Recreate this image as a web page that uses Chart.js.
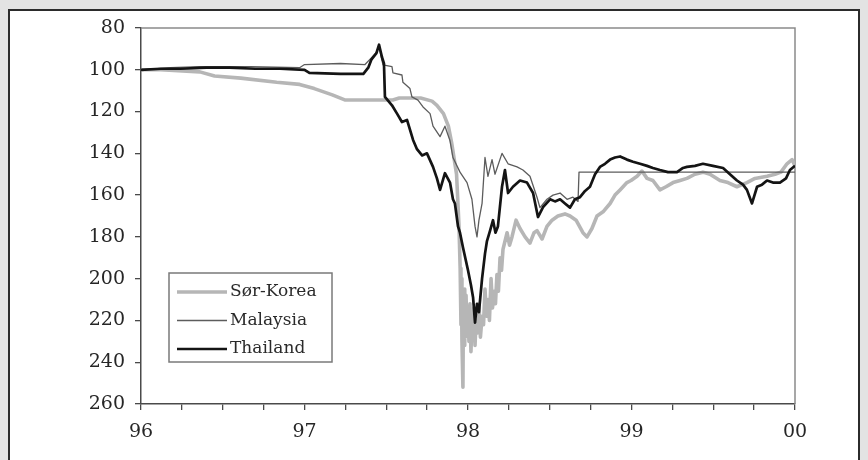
<!DOCTYPE html>
<html>
<head>
<meta charset="utf-8">
<script src="https://cdn.jsdelivr.net/npm/chart.js@4.4.1/dist/chart.umd.min.js"></script>
<style>
  html, body { margin: 0; padding: 0; background: #e3e3e3; }
  #panel { position: absolute; left: 8px; top: 9px; width: 852px; height: 460px;
           background: #ffffff; border: 2px solid #2b2b2b; box-sizing: border-box; }
  #wrap { position: absolute; left: 0; top: 0; width: 868px; height: 460px; }
</style>
</head>
<body>
<div id="panel"></div>
<div id="wrap"><canvas id="c" width="868" height="460"></canvas></div>
<script>
// ---- data (x in years, e.g. 97.5 = mid-1997; 100 = year 2000) ----
const seriesNames = ['Sør-Korea', 'Malaysia', 'Thailand'];
const xTickLabels = ['96', '97', '98', '99', '00'];

const koreaX = [96.00,96.12,96.36,96.45,96.61,96.83,96.97,97.06,97.17,97.25,97.54,97.58,97.71,97.78,97.81,97.85,97.88,97.90,97.93,97.945,97.952,97.957,97.960,97.963,97.969,97.972,97.976,97.980,97.984,97.988,97.994,98.00,98.006,98.012,98.018,98.024,98.030,98.037,98.043,98.049,98.058,98.067,98.076,98.086,98.095,98.104,98.113,98.122,98.131,98.141,98.150,98.159,98.168,98.177,98.186,98.196,98.205,98.214,98.239,98.254,98.269,98.294,98.318,98.349,98.379,98.404,98.422,98.453,98.483,98.514,98.55,98.593,98.624,98.661,98.703,98.728,98.758,98.789,98.826,98.869,98.899,98.93,98.972,98.997,99.034,99.064,99.095,99.131,99.174,99.211,99.254,99.297,99.339,99.388,99.437,99.48,99.541,99.59,99.645,99.706,99.755,99.829,99.878,99.914,99.951,99.982,100.00];
const koreaY = [100,100,101,103,104,106,107,109,112,114.5,114.5,113.5,113.5,115,117,121,127,135,150,175,195,222,200,230,252,212,232,205,228,208,226,218,230,212,235,222,228,214,232,220,226,212,228,218,222,205,218,210,220,200,214,206,212,198,206,190,196,186,178,184,180,172,176,180,183,178,177,181,175,172,170,169,170,172,178,180,176,170,168,164,160,157.5,154,153,151,148.5,152,153,157.5,156,154,153,152,150,149,150,153,154,156,154,152,151,150,149,145,143,146];

const malaysiaX = [96.00,96.18,96.36,96.67,96.97,97.00,97.22,97.37,97.40,97.437,97.456,97.48,97.535,97.541,97.596,97.602,97.645,97.657,97.694,97.725,97.768,97.786,97.829,97.859,97.89,97.908,97.951,97.994,98.024,98.043,98.055,98.067,98.086,98.104,98.122,98.147,98.165,98.208,98.245,98.30,98.336,98.379,98.422,98.44,98.483,98.52,98.563,98.606,98.642,98.673,98.679,100.00];
const malaysiaY = [100,99,98.5,98.5,99,97.5,97,97.5,95,92,89,97.7,98.5,101.5,102.5,106,109,113,114.5,117.8,121,127,132,127,134,142,149,154,162,175,180,172,164,142,151,143,150,140,145,146.5,148,151,161,166,162,160,159,162,161,163,149,149];

const thailandX = [96.00,96.12,96.24,96.40,96.54,96.70,96.85,97.00,97.03,97.22,97.36,97.39,97.41,97.44,97.456,97.474,97.486,97.492,97.535,97.566,97.596,97.627,97.664,97.688,97.719,97.749,97.786,97.81,97.829,97.859,97.89,97.908,97.92,97.939,97.951,97.969,98.00,98.018,98.031,98.043,98.055,98.067,98.086,98.104,98.116,98.135,98.153,98.168,98.183,98.208,98.226,98.245,98.275,98.318,98.361,98.398,98.428,98.459,98.502,98.532,98.563,98.593,98.624,98.654,98.685,98.716,98.746,98.777,98.807,98.838,98.869,98.899,98.93,98.972,99.009,99.052,99.095,99.131,99.174,99.223,99.278,99.315,99.339,99.388,99.437,99.498,99.56,99.602,99.645,99.682,99.706,99.737,99.768,99.798,99.829,99.865,99.908,99.945,99.969,100.00];
const thailandY = [100,99.5,99.5,99,99,99.5,99.5,100,101.5,102,102,99,95,92,88,94,97,113,117,121,125,124,133.6,138,141,140,146.5,152,157.5,149.5,154,162,164,175,178,185,196,203,209,221,212,216,200,188,182,177,172,178,175,156,148,159,156,153,154,159,170.5,165.7,162,163,162,164,166,162,161,158,156,150,146.5,145,143,142,141.5,143,144,145,146,147,148,149,149,147,146.5,146,145,146,147,150,153,155,157.5,164,156,155,153,154,154,152,148,146];

const colors = ['#b6b6b6', '#5c5c5c', '#141414'];
const widths = [3.6, 1.3, 2.7];

function pts(xs, ys) { return xs.map((x, i) => ({ x: x, y: ys[i] })); }

const FONT = '"DejaVu Serif", "Liberation Serif", serif';

const frame = {
  id: 'frame',
  beforeDatasetsDraw(chart) {
    const a = chart.chartArea, ctx = chart.ctx;
    ctx.save();
    ctx.strokeStyle = '#8a8a8a';
    ctx.lineWidth = 1.5;
    ctx.beginPath();
    ctx.moveTo(a.left, a.top);
    ctx.lineTo(a.right, a.top);
    ctx.lineTo(a.right, a.bottom);
    ctx.stroke();
    ctx.restore();
  }
};

const legendBox = {
  id: 'legendBox',
  afterDatasetsDraw(chart) {
    const ctx = chart.ctx;
    const x0 = 169, y0 = 273, w = 163, h = 89;
    ctx.save();
    ctx.fillStyle = '#ffffff';
    ctx.fillRect(x0, y0, w, h);
    ctx.strokeStyle = '#7a7a7a';
    ctx.lineWidth = 1.5;
    ctx.strokeRect(x0, y0, w, h);
    ctx.font = '17px ' + FONT;
    ctx.textBaseline = 'middle';
    ctx.fillStyle = '#2a2a2a';
    chart.data.datasets.forEach((ds, i) => {
      const yy = y0 + 19 + i * 28.5;
      ctx.strokeStyle = ds.borderColor;
      ctx.lineWidth = ds.borderWidth;
      ctx.beginPath();
      ctx.moveTo(x0 + 8, yy);
      ctx.lineTo(x0 + 58, yy);
      ctx.stroke();
      ctx.fillText(ds.label, x0 + 61, yy);
    });
    ctx.restore();
  }
};

new Chart(document.getElementById('c'), {
  type: 'line',
  data: {
    datasets: [
      { label: seriesNames[0], data: pts(koreaX, koreaY), borderColor: colors[0], borderWidth: widths[0], order: 2 },
      { label: seriesNames[1], data: pts(malaysiaX, malaysiaY), borderColor: colors[1], borderWidth: widths[1], order: 1 },
      { label: seriesNames[2], data: pts(thailandX, thailandY), borderColor: colors[2], borderWidth: widths[2], order: 0 }
    ]
  },
  options: {
    responsive: false,
    animation: false,
    devicePixelRatio: 1,
    elements: { point: { radius: 0 }, line: { tension: 0, borderJoinStyle: 'round' } },
    layout: { padding: { left: 0, right: 73, top: 28, bottom: 0 } },
    plugins: { legend: { display: false }, tooltip: { enabled: false } },
    scales: {
      x: {
        type: 'linear', min: 96, max: 100,
        afterFit(s) { s.height = 56; },
        afterBuildTicks(s) {
          const t = [];
          for (let i = 0; i <= 16; i++) t.push({ value: 96 + i * 0.25 });
          s.ticks = t;
        },
        ticks: {
          autoSkip: false, maxRotation: 0, padding: 11, color: '#262626',
          font: { family: FONT, size: 19 },
          callback(v) {
            const k = Math.round((v - 96) * 4);
            return k % 4 === 0 ? xTickLabels[k / 4] : '';
          }
        },
        grid: { drawOnChartArea: false, drawTicks: true, tickLength: 6, color: '#4a4a4a', lineWidth: 1.3 },
        border: { display: true, color: '#4a4a4a', width: 1.5 }
      },
      y: {
        reverse: true, min: 80, max: 260,
        afterFit(s) { s.width = 141; },
        ticks: { stepSize: 20, padding: 10, color: '#262626', font: { family: FONT, size: 19 } },
        grid: { drawOnChartArea: false, drawTicks: true, tickLength: 6, color: '#4a4a4a', lineWidth: 1.3 },
        border: { display: true, color: '#4a4a4a', width: 1.5 }
      }
    }
  },
  plugins: [frame, legendBox]
});
</script>
</body>
</html>
